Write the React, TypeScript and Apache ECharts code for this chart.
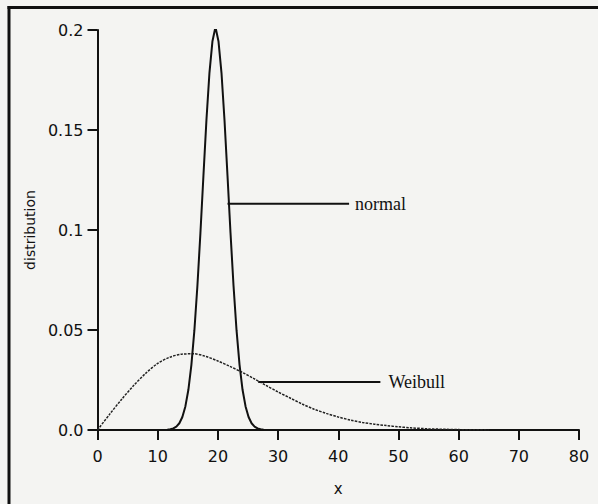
import React, { useEffect, useRef } from "react";
import * as echarts from "echarts";

// Normal curve
const normalX = [11.6, 12.1, 12.6, 13.1, 13.6, 14.1, 14.6, 15.1, 15.6, 16.1, 16.6, 17.1, 17.6, 18.1, 18.6, 19.1, 19.6, 20.1, 20.6, 21.1, 21.6, 22.1, 22.6, 23.1, 23.6, 24.1, 24.6, 25.1, 25.6, 26.1, 26.6, 27.1, 27.6];
const normalY = [0.00014, 0.00034, 0.00077, 0.00166, 0.00337, 0.00648, 0.0118, 0.0201, 0.0326, 0.0499, 0.0721, 0.0985, 0.1271, 0.155, 0.1786, 0.1944, 0.2015, 0.1944, 0.1786, 0.155, 0.1271, 0.0985, 0.0721, 0.0499, 0.0326, 0.0201, 0.0118, 0.00648, 0.00337, 0.00166, 0.00077, 0.00034, 0.00014];

// Weibull curve
const weibullX = [0, 2, 4, 6, 8, 10, 12, 14, 16, 18, 20, 22, 24, 26, 28, 30, 32, 34, 36, 38, 40, 42, 44, 46, 48, 50, 52, 55, 60, 65];
const weibullY = [0, 0.0078, 0.0153, 0.0222, 0.0283, 0.0333, 0.0364, 0.0379, 0.0381, 0.0368, 0.0345, 0.0318, 0.0289, 0.0257, 0.0223, 0.019, 0.016, 0.013, 0.0104, 0.0083, 0.0065, 0.005, 0.0038, 0.0029, 0.0022, 0.0016, 0.0011, 0.0006, 0.0002, 0.00005];

// Annotation leader lines
const normalLeaderX = [21.6, 41.8];
const normalLeaderY = [0.1131, 0.1131];
const weibullLeaderX = [26.7, 47.0];
const weibullLeaderY = [0.024, 0.024];

const seriesNames = ["normal", "Weibull"];
const xTitle = "x";
const yTitle = "distribution";

const zip = (xs: number[], ys: number[]) => xs.map((x, i) => [x, ys[i]]);

export default function App() {
  const ref = useRef<HTMLDivElement>(null);
  useEffect(() => {
    document.body.style.margin = "0";
    const chart = echarts.init(ref.current!, undefined, { renderer: "svg" });
    const ink = "#111111";
    const tickFont = { fontFamily: "DejaVu Sans", fontSize: 16, color: ink };
    const serifLabel = (text: string, dist: number) => ({
      show: true,
      formatter: text,
      distance: dist,
      fontFamily: "Liberation Serif",
      fontSize: 18,
      color: ink,
    });
    chart.setOption({
      animation: false,
      backgroundColor: "#f4f4f2",
      grid: { left: 97.5, right: 19, top: 30, bottom: 74 },
      xAxis: {
        type: "value",
        min: 0,
        max: 80,
        interval: 10,
        name: xTitle,
        nameLocation: "middle",
        nameGap: 51,
        nameTextStyle: { fontFamily: "DejaVu Sans", fontSize: 15, color: ink },
        axisLine: { show: true, onZero: false, lineStyle: { color: ink, width: 2 } },
        axisTick: { show: true, length: 10, lineStyle: { color: ink, width: 2 } },
        axisLabel: { ...tickFont, margin: 18 },
        splitLine: { show: false },
      },
      yAxis: {
        type: "value",
        min: 0,
        max: 0.2,
        interval: 0.05,
        name: yTitle,
        nameLocation: "middle",
        nameGap: 59,
        nameTextStyle: { fontFamily: "DejaVu Sans", fontSize: 14, color: ink },
        axisLine: { show: true, lineStyle: { color: ink, width: 2 } },
        axisTick: { show: true, length: 10, lineStyle: { color: ink, width: 2 } },
        axisLabel: {
          ...tickFont,
          margin: 14,
          formatter: (v: number) => (v === 0 ? "0.0" : String(Number(v.toFixed(2)))),
        },
        splitLine: { show: false },
      },
      graphic: [
        { type: "rect", shape: { x: 7.5, y: 6, width: 3, height: 498 }, style: { fill: "#111" } },
        { type: "rect", shape: { x: 7.5, y: 6, width: 591, height: 3 }, style: { fill: "#111" } },
      ],
      series: [
        {
          name: seriesNames[1],
          type: "line",
          data: zip(weibullX, weibullY),
          smooth: 0.3,
          showSymbol: false,
          lineStyle: { color: "#222", width: 1.5, type: [2.5, 1.2] },
        },
        {
          name: seriesNames[0],
          type: "line",
          data: zip(normalX, normalY),
          showSymbol: false,
          lineStyle: { color: ink, width: 2 },
        },
        {
          type: "line",
          data: zip(normalLeaderX, normalLeaderY),
          showSymbol: false,
          lineStyle: { color: ink, width: 2 },
          endLabel: serifLabel(seriesNames[0], 6),
        },
        {
          type: "line",
          data: zip(weibullLeaderX, weibullLeaderY),
          showSymbol: false,
          lineStyle: { color: ink, width: 2 },
          endLabel: serifLabel(seriesNames[1], 8),
        },
      ],
    });
    return () => chart.dispose();
  }, []);
  return <div ref={ref} style={{ position: "absolute", left: 0, top: 0, width: 598, height: 504 }} />;
}
